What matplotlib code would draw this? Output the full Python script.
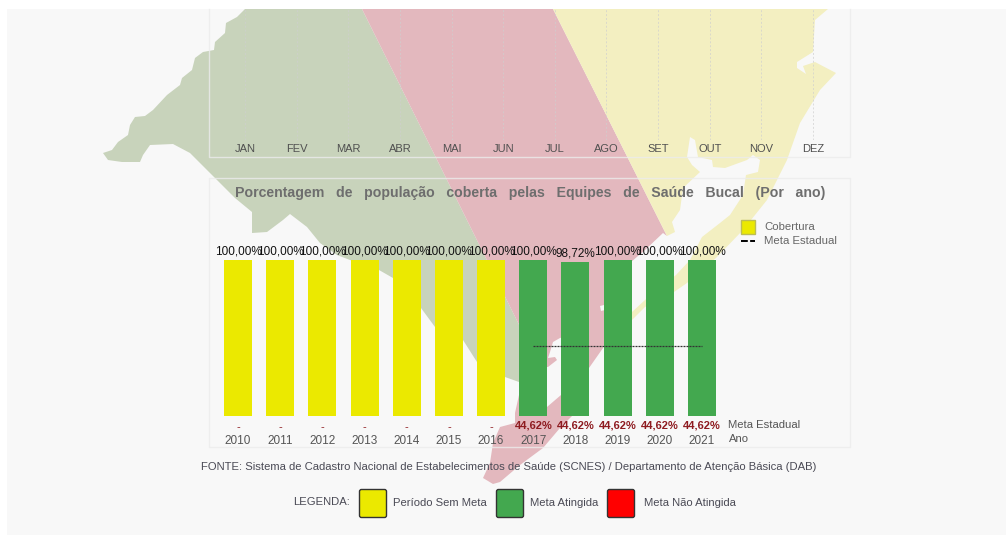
import matplotlib
matplotlib.use('Agg')
from matplotlib import pyplot as plt
from matplotlib.patches import Polygon, Rectangle, FancyBboxPatch

plt.rcParams['font.family'] = ['Liberation Sans', 'DejaVu Sans']

W, H = 1006, 535

# dados do grafico
anos = ['2010', '2011', '2012', '2013', '2014', '2015', '2016', '2017', '2018', '2019', '2020', '2021']
cobertura = [100, 100, 100, 100, 100, 100, 100, 100, 98.72, 100, 100, 100]
cobertura_txt = ['100,00%'] * 8 + ['98,72%'] + ['100,00%'] * 3
meta = [None, None, None, None, None, None, None, 44.62, 44.62, 44.62, 44.62, 44.62]
meta_txt = ['-'] * 7 + ['44,62%'] * 5
meses = ['JAN', 'FEV', 'MAR', 'ABR', 'MAI', 'JUN', 'JUL', 'AGO', 'SET', 'OUT', 'NOV', 'DEZ']

titulo = 'Porcentagem   de   população   coberta   pelas   Equipes   de   Saúde   Bucal   (Por   ano)'
fonte = 'FONTE: Sistema de Cadastro Nacional de Estabelecimentos de Saúde (SCNES) / Departamento de Atenção Básica (DAB)'

AMARELO = '#ebe900'
VERDE = '#43a84f'
VERMELHO = '#ff0000'
FUNDO = '#f8f8f8'

# mapa do estado ao fundo, contorno em pixels da imagem
mapa_verde = [(245, 9), (362, 9), (549, 385), (519, 382), (505, 377), (477, 362), (463, 340), (435, 327),
              (421, 308), (393, 278), (379, 270), (350, 260), (337, 255), (320, 243), (307, 227), (290, 214),
              (283, 220), (267, 232), (252, 233), (252, 212), (235, 198), (220, 183), (207, 170), (190, 153),
              (173, 144), (150, 145), (143, 155), (140, 162), (122, 162), (108, 160), (103, 153), (112, 150),
              (118, 142), (128, 135), (130, 125), (135, 117), (145, 116), (153, 110), (167, 95), (180, 85),
              (182, 78), (192, 70), (195, 58), (203, 52), (214, 50), (215, 42), (225, 33), (226, 23),
              (237, 17)]
mapa_vermelho = [(362, 9), (553, 9), (667, 236), (663, 233), (645, 250), (631, 262), (603, 348), (589, 368),
                 (572, 416), (560, 428), (543, 448), (520, 465), (500, 482), (493, 484), (483, 478), (490, 463),
                 (493, 443), (500, 427), (515, 423), (515, 413), (519, 395), (549, 385)]
mapa_amarelo = [(553, 9), (828, 9), (815, 20), (813, 52), (797, 62), (797, 68), (806, 74), (803, 66), (815, 62),
                (836, 73), (820, 90), (800, 123), (787, 160), (767, 200), (743, 230), (716, 258), (687, 283),
                (674, 292), (645, 307), (632, 320), (632, 312), (645, 300), (676, 275), (690, 260), (702, 237),
                (720, 223), (730, 215), (743, 195), (746, 175), (758, 172), (760, 160), (753, 155), (747, 160),
                (725, 168), (713, 167), (712, 160), (698, 157), (695, 140), (690, 137), (687, 157), (692, 165),
                (700, 172), (683, 188), (680, 210), (672, 222), (675, 232), (667, 236)]
lagoa = [(560, 338), (553, 342), (550, 352), (548, 358), (555, 357), (557, 360), (548, 367), (545, 367),
         (545, 408), (547, 407), (561, 395), (570, 390), (570, 335)]
ilha = [(600, 306), (604, 305), (605, 310), (601, 311)]


def caixa(esq, topo, dir, base):
    # converte pixels (origem em cima) para a posicao da figura
    return [esq / W, 1 - base / H, (dir - esq) / W, (base - topo) / H]


fig = plt.figure(figsize=(W / 100, H / 100), dpi=100, facecolor='white')

# fundo, mapa e molduras
fundo = fig.add_axes([0, 0, 1, 1], zorder=0)
fundo.set_xlim(0, W)
fundo.set_ylim(H, 0)
fundo.axis('off')
fundo.add_patch(Rectangle((7, 9), W - 7, H - 9, fc=FUNDO, ec='none'))
fundo.add_patch(Polygon(mapa_verde, fc='#c8d3bb', ec='none'))
fundo.add_patch(Polygon(mapa_vermelho, fc='#e3b8be', ec='none'))
fundo.add_patch(Polygon(mapa_amarelo, fc='#f3efc1', ec='none'))
fundo.add_patch(Polygon(lagoa, fc=FUNDO, ec='none'))
fundo.add_patch(Polygon(ilha, fc=FUNDO, ec='none'))
fundo.plot([209.5, 209.5, 850.5, 850.5], [9, 157, 157, 9], color='#ececec', alpha=0.8, lw=1)
fundo.add_patch(Rectangle((209.5, 178), 641, 268.5, fc='none', ec='#ececec', alpha=0.8, lw=1))

# grafico de cima, so o eixo dos meses
ax_mes = fig.add_axes(caixa(219.2, 9, 838.8, 140), zorder=1)
ax_mes.patch.set_alpha(0)
ax_mes.set_xlim(-0.5, 11.5)
ax_mes.set_ylim(0, 1)
ax_mes.set_yticks([])
ax_mes.set_xticks(range(12), meses)
ax_mes.tick_params(axis='x', length=0, pad=3, labelsize=8, labelcolor='#505050')
ax_mes.grid(axis='x', color='#cfcfcf', alpha=0.7, ls=(0, (2, 2)), lw=0.7)
for lado in ax_mes.spines.values():
    lado.set_visible(False)

# grafico de barras
ax = fig.add_axes(caixa(216.9, 260, 723.1, 416), zorder=2)
ax.patch.set_alpha(0)
cores = [VERDE if m is not None and c >= m else AMARELO for c, m in zip(cobertura, meta)]
pos = range(len(anos))
ax.bar(pos, cobertura, width=0.664, color=cores)
ax.plot(pos, [float('nan') if m is None else m for m in meta], color='#333333', ls=(0, (1.6, 0.8)), lw=0.9)
ax.set_xlim(-0.5, 11.5)
ax.set_ylim(0, 100)
ax.set_yticks([])
ax.set_xticks(pos, anos)
ax.tick_params(axis='x', length=0, pad=13.7, labelsize=8.5, labelcolor='#555555')
for lado in ax.spines.values():
    lado.set_visible(False)

for i in pos:
    ax.annotate(cobertura_txt[i], (i, cobertura[i]), xytext=(0, 1.7), textcoords='offset points',
                ha='center', va='bottom', fontsize=8.5, color='#111111')
    negrito = meta[i] is not None
    ax.annotate(meta_txt[i], (i, 0), xytext=(0, -7 if negrito else -8), textcoords='offset points',
                ha='center', va='center', fontsize=8, color='#8e1b20',
                fontweight='bold' if negrito else 'normal')

# textos soltos
fundo.text(530.5, 192.5, titulo, ha='center', va='center', fontsize=10.2, fontweight='bold', color='#6e6e6e')
fundo.text(728.5, 425, 'Meta Estadual', va='center', fontsize=8.1, color='#555555')
fundo.text(728.5, 439, 'Ano', va='center', fontsize=8.1, color='#555555')
fundo.text(509, 467.5, fonte, ha='center', va='center', fontsize=8.1, color='#4a4a55')

# legenda do grafico
fundo.add_patch(Rectangle((741.5, 219.5), 14, 14, fc=AMARELO, ec='#bdbd55', lw=1))
fundo.plot([741, 755], [241, 241], color='black', ls=(0, (3.5, 1.2)), lw=1.4)
fundo.text(764, 227, 'Cobertura', va='center', fontsize=8.2, color='#666666')
fundo.text(764, 241, 'Meta Estadual', va='center', fontsize=8.2, color='#666666')

# legenda de baixo
fundo.text(293, 502, 'LEGENDA:', va='center', fontsize=8.1, color='#4a4a55')
for x0, cor, nome, xt in [(359.5, AMARELO, 'Período Sem Meta', 393), (496.5, VERDE, 'Meta Atingida', 530),
                          (607.5, VERMELHO, 'Meta Não Atingida', 644)]:
    fundo.add_patch(FancyBboxPatch((x0 + 1, 490.5), 25, 26, boxstyle='round,pad=1,rounding_size=2',
                                   fc=cor, ec='#333333', lw=1))
    fundo.text(xt, 503.5, nome, va='center', fontsize=8.1, color='#4a4a55')

fig.savefig('out.png', dpi=100, facecolor='white')
